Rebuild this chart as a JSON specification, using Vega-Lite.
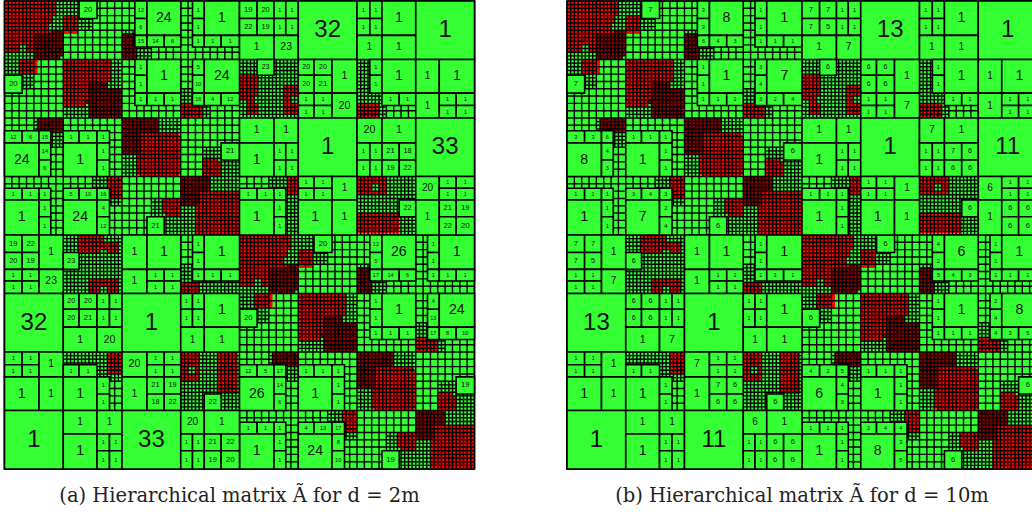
{"$schema":"https://vega.github.io/schema/vega-lite/v6.json","padding":{"left":3.5,"top":0,"right":0,"bottom":0},"spacing":90.5,"config":{"view":{"stroke":null}},
"datasets":{
"full":[{"x":0,"x2":128,"y":0,"y2":128}],
"dense":[
{"k":"red","x":0,"x2":14,"y":0,"y2":13},{"k":"deep","x":9,"x2":16,"y":8,"y2":15},{"k":"red","x":16,"x2":20,"y":4,"y2":9},{"k":"deep","x":32,"x2":36,"y":9,"y2":16},{"k":"red","x":16,"x2":27,"y":16,"y2":29},{"k":"deep","x":22,"x2":32,"y":23,"y2":32},{"k":"red","x":48,"x2":54,"y":28,"y2":32},{"k":"deep","x":32,"x2":42,"y":32,"y2":38},{"k":"red","x":36,"x2":48,"y":37,"y2":47.5},{"k":"red","x":54,"x2":58,"y":43,"y2":48},{"k":"deep","x":48,"x2":56,"y":48,"y2":55},{"k":"red","x":52,"x2":64,"y":53,"y2":64},{"k":"red","x":44,"x2":48,"y":54,"y2":59},
{"k":"red","x":64,"x2":78,"y":64,"y2":77},{"k":"deep","x":73,"x2":80,"y":72,"y2":79},{"k":"red","x":80,"x2":84,"y":68,"y2":73},{"k":"deep","x":96,"x2":100,"y":73,"y2":80},{"k":"red","x":80,"x2":91,"y":80,"y2":93},{"k":"deep","x":86,"x2":96,"y":87,"y2":96},{"k":"red","x":112,"x2":118,"y":92,"y2":96},{"k":"deep","x":96,"x2":106,"y":96,"y2":102},{"k":"red","x":100,"x2":112,"y":101,"y2":111.5},{"k":"red","x":118,"x2":122,"y":107,"y2":112},{"k":"deep","x":112,"x2":120,"y":112,"y2":119},{"k":"red","x":116,"x2":128,"y":117,"y2":128},{"k":"red","x":108,"x2":112,"y":118,"y2":123},
{"k":"red","x":64,"x2":69,"y":20,"y2":27},{"k":"red","x":66,"x2":69,"y":25,"y2":31},{"k":"red","x":76,"x2":80,"y":23,"y2":31},{"k":"red","x":96,"x2":102,"y":28,"y2":32},{"k":"red","x":96,"x2":104,"y":48,"y2":53},{"k":"red","x":96,"x2":107.5,"y":58,"y2":63.5},{"k":"red","x":77,"x2":80,"y":48,"y2":53},
{"k":"clear","x":6,"x2":8,"y":12,"y2":16},{"k":"clear","x":12,"x2":14,"y":4,"y2":6},{"k":"clear","x":22,"x2":24,"y":28,"y2":32},{"k":"clear","x":42,"x2":44,"y":32,"y2":36},{"k":"clear","x":50,"x2":52,"y":56,"y2":58},{"k":"clear","x":70,"x2":72,"y":76,"y2":80},{"k":"clear","x":76,"x2":78,"y":68,"y2":70},{"k":"clear","x":86,"x2":88,"y":92,"y2":96},{"k":"clear","x":106,"x2":108,"y":96,"y2":100},{"k":"clear","x":114,"x2":116,"y":120,"y2":122},{"k":"clear","x":68,"x2":70,"y":26,"y2":28},{"k":"clear","x":100,"x2":102,"y":50,"y2":52},{"k":"clear","x":78,"x2":80,"y":26,"y2":28}],
"mesh":[
{"x":[0,2,4,6,8,10,12,14,16,18,20,22,24,26,28,30,32,34,36,38,40,42,44,46,48,50,52,54,56,58,60,62,64,66,68,70,72,74,76,78,80,82,84,86,88,90,92,94,96,98,100,102,104,106,108,110,112,114,116,118,120,122,124,126,128],"y":0,"y2":128},
{"x":[1,3,5,7],"y":0,"y2":24},
{"x":[9,11,13,15],"y":0,"y2":16},{"x":[9,11,13,15],"y":32,"y2":40},
{"x":[17,19,21,23],"y":0,"y2":8},{"x":[17,19,21,23],"y":16,"y2":32},{"x":[17,19,21,23],"y":64,"y2":80},{"x":[17,19,21,23],"y":96,"y2":104},
{"x":[25,27,29,31],"y":16,"y2":32},{"x":[25,27,29,31],"y":48,"y2":56},{"x":[25,27,29,31],"y":64,"y2":80},{"x":[25,27,29,31],"y":96,"y2":104},
{"x":[33,35,37,39],"y":8,"y2":16},{"x":[33,35,37,39],"y":32,"y2":48},
{"x":[41,43,45,47],"y":32,"y2":48},{"x":[41,43,45,47],"y":54,"y2":64},
{"x":[49,51,53,55],"y":24,"y2":32},{"x":[49,51,53,55],"y":48,"y2":64},{"x":[49,51,53,55],"y":72,"y2":80},{"x":[49,51,53,55],"y":96,"y2":112},{"x":[55],"y":40,"y2":48},
{"x":[57,59,61,63],"y":40,"y2":64},{"x":[57,59,61,63],"y":72,"y2":80},{"x":[57,59,61,63],"y":96,"y2":112},
{"x":[65,67,69,71],"y":16,"y2":32},{"x":[65,67,69,71],"y":64,"y2":88},
{"x":[73,75,77,79],"y":16,"y2":32},{"x":[73,75,77,79],"y":48,"y2":80},{"x":[73,75,77,79],"y":96,"y2":104},
{"x":[81,83,85,87],"y":64,"y2":72},{"x":[81,83,85,87],"y":80,"y2":96},
{"x":[89,91,93,95],"y":80,"y2":96},{"x":[89,91,93,95],"y":112,"y2":120},
{"x":[97,99,101,103],"y":16,"y2":32},{"x":[97,99,101,103],"y":48,"y2":64},{"x":[97,99,101,103],"y":72,"y2":80},{"x":[97,99,101,103],"y":96,"y2":112},
{"x":[105,107,109,111],"y":48,"y2":64},{"x":[105,107,109,111],"y":96,"y2":112},{"x":[105,107,109,111],"y":118,"y2":128},
{"x":[113,115,117,119],"y":88,"y2":96},{"x":[113,115,117,119],"y":112,"y2":128},{"x":[119],"y":104,"y2":112},
{"x":[121,123,125,127],"y":104,"y2":128}],
"blocks":[
{"x":20.3,"x2":25.2,"y":0,"y2":4.8,"cx":22.75,"cy":2.4,"s":4.8,"a":"20","b":"7"},
{"x":35.5,"x2":38.8,"y":0,"y2":4.8,"cx":37.15,"cy":2.4,"s":3.3,"a":"12","b":"3"},
{"x":35.5,"x2":38.8,"y":4.8,"y2":9.4,"cx":37.15,"cy":7.1,"s":3.3,"a":"6","b":"3"},
{"x":38.8,"x2":48,"y":0,"y2":9.4,"cx":43.4,"cy":4.7,"s":9.2,"a":"24","b":"8"},
{"x":35.5,"x2":38.8,"y":9.4,"y2":12.6,"cx":37.15,"cy":11,"s":3.2,"a":"15","b":"6"},
{"x":38.8,"x2":43.5,"y":9.4,"y2":12.6,"cx":41.15,"cy":11,"s":3.2,"a":"14","b":"4"},
{"x":43.5,"x2":48,"y":9.4,"y2":12.6,"cx":45.75,"cy":11,"s":3.2,"a":"6","b":"3"},
{"x":51.2,"x2":54.4,"y":0,"y2":4.8,"cx":52.8,"cy":2.4,"s":3.2,"a":"1","b":"1"},
{"x":51.2,"x2":54.4,"y":4.8,"y2":9.4,"cx":52.8,"cy":7.1,"s":3.2,"a":"1","b":"1"},
{"x":54.4,"x2":64,"y":0,"y2":9.4,"cx":59.2,"cy":4.7,"s":9.4,"a":"1","b":"1"},
{"x":51.2,"x2":54.4,"y":9.4,"y2":12.6,"cx":52.8,"cy":11,"s":3.2,"a":"1","b":"1"},
{"x":54.4,"x2":59,"y":9.4,"y2":12.6,"cx":56.7,"cy":11,"s":3.2,"a":"1","b":"1"},
{"x":59,"x2":64,"y":9.4,"y2":12.6,"cx":61.5,"cy":11,"s":3.2,"a":"1","b":"1"},
{"x":35.5,"x2":38.8,"y":16,"y2":20.3,"cx":37.15,"cy":18.15,"s":3.3,"a":"1","b":"1"},
{"x":35.5,"x2":38.8,"y":20.3,"y2":25.2,"cx":37.15,"cy":22.75,"s":3.3,"a":"1","b":"1"},
{"x":38.8,"x2":48,"y":16,"y2":25.2,"cx":43.4,"cy":20.6,"s":9.2,"a":"1","b":"1"},
{"x":35.5,"x2":38.8,"y":25.2,"y2":28.6,"cx":37.15,"cy":26.9,"s":3.3,"a":"1","b":"1"},
{"x":38.8,"x2":43.5,"y":25.2,"y2":28.6,"cx":41.15,"cy":26.9,"s":3.4,"a":"1","b":"1"},
{"x":43.5,"x2":48,"y":25.2,"y2":28.6,"cx":45.75,"cy":26.9,"s":3.4,"a":"1","b":"1"},
{"x":51.2,"x2":54.4,"y":16,"y2":20.3,"cx":52.8,"cy":18.15,"s":3.2,"a":"5","b":"3"},
{"x":51.2,"x2":54.4,"y":20.3,"y2":25.2,"cx":52.8,"cy":22.75,"s":3.2,"a":"10","b":"4"},
{"x":54.4,"x2":64,"y":16,"y2":25.2,"cx":59.2,"cy":20.6,"s":9.2,"a":"24","b":"7"},
{"x":51.2,"x2":54.4,"y":25.2,"y2":28.6,"cx":52.8,"cy":26.9,"s":3.2,"a":"16","b":"3"},
{"x":54.4,"x2":59,"y":25.2,"y2":28.6,"cx":56.7,"cy":26.9,"s":3.4,"a":"4","b":"2"},
{"x":59,"x2":64,"y":25.2,"y2":28.6,"cx":61.5,"cy":26.9,"s":3.4,"a":"12","b":"4"},
{"x":59,"x2":64,"y":38.8,"y2":43.5,"cx":61.5,"cy":41.15,"s":4.7,"a":"21","b":"6"},
{"x":84.3,"x2":89.2,"y":64,"y2":68.8,"cx":86.75,"cy":66.4,"s":4.8,"a":"20","b":"6"},
{"x":99.5,"x2":102.8,"y":64,"y2":68.8,"cx":101.15,"cy":66.4,"s":3.3,"a":"12","b":"4"},
{"x":99.5,"x2":102.8,"y":68.8,"y2":73.4,"cx":101.15,"cy":71.1,"s":3.3,"a":"5","b":"2"},
{"x":102.8,"x2":112,"y":64,"y2":73.4,"cx":107.4,"cy":68.7,"s":9.2,"a":"26","b":"6"},
{"x":99.5,"x2":102.8,"y":73.4,"y2":76.6,"cx":101.15,"cy":75,"s":3.2,"a":"17","b":"5"},
{"x":102.8,"x2":107.5,"y":73.4,"y2":76.6,"cx":105.15,"cy":75,"s":3.2,"a":"14","b":"4"},
{"x":107.5,"x2":112,"y":73.4,"y2":76.6,"cx":109.75,"cy":75,"s":3.2,"a":"6","b":"3"},
{"x":115.2,"x2":118.4,"y":64,"y2":68.8,"cx":116.8,"cy":66.4,"s":3.2,"a":"1","b":"1"},
{"x":115.2,"x2":118.4,"y":68.8,"y2":73.4,"cx":116.8,"cy":71.1,"s":3.2,"a":"1","b":"1"},
{"x":118.4,"x2":128,"y":64,"y2":73.4,"cx":123.2,"cy":68.7,"s":9.4,"a":"1","b":"1"},
{"x":115.2,"x2":118.4,"y":73.4,"y2":76.6,"cx":116.8,"cy":75,"s":3.2,"a":"1","b":"1"},
{"x":118.4,"x2":123,"y":73.4,"y2":76.6,"cx":120.7,"cy":75,"s":3.2,"a":"1","b":"1"},
{"x":123,"x2":128,"y":73.4,"y2":76.6,"cx":125.5,"cy":75,"s":3.2,"a":"1","b":"1"},
{"x":99.5,"x2":102.8,"y":80,"y2":84.3,"cx":101.15,"cy":82.15,"s":3.3,"a":"1","b":"1"},
{"x":99.5,"x2":102.8,"y":84.3,"y2":89.2,"cx":101.15,"cy":86.75,"s":3.3,"a":"1","b":"1"},
{"x":102.8,"x2":112,"y":80,"y2":89.2,"cx":107.4,"cy":84.6,"s":9.2,"a":"1","b":"1"},
{"x":99.5,"x2":102.8,"y":89.2,"y2":92.6,"cx":101.15,"cy":90.9,"s":3.3,"a":"1","b":"1"},
{"x":102.8,"x2":107.5,"y":89.2,"y2":92.6,"cx":105.15,"cy":90.9,"s":3.4,"a":"1","b":"1"},
{"x":107.5,"x2":112,"y":89.2,"y2":92.6,"cx":109.75,"cy":90.9,"s":3.4,"a":"1","b":"1"},
{"x":115.2,"x2":118.4,"y":80,"y2":84.3,"cx":116.8,"cy":82.15,"s":3.2,"a":"4","b":"2"},
{"x":115.2,"x2":118.4,"y":84.3,"y2":89.2,"cx":116.8,"cy":86.75,"s":3.2,"a":"13","b":"4"},
{"x":118.4,"x2":128,"y":80,"y2":89.2,"cx":123.2,"cy":84.6,"s":9.2,"a":"24","b":"8"},
{"x":115.2,"x2":118.4,"y":89.2,"y2":92.6,"cx":116.8,"cy":90.9,"s":3.2,"a":"17","b":"4"},
{"x":118.4,"x2":123,"y":89.2,"y2":92.6,"cx":120.7,"cy":90.9,"s":3.4,"a":"8","b":"3"},
{"x":123,"x2":128,"y":89.2,"y2":92.6,"cx":125.5,"cy":90.9,"s":3.4,"a":"10","b":"5"},
{"x":123,"x2":128,"y":102.8,"y2":107.5,"cx":125.5,"cy":105.15,"s":4.7,"a":"19","b":"6"},
{"x":64,"x2":68.8,"y":0,"y2":4.8,"cx":66.4,"cy":2.4,"s":4.8,"a":"19","b":"7"},
{"x":68.8,"x2":73.4,"y":0,"y2":4.8,"cx":71.1,"cy":2.4,"s":4.6,"a":"20","b":"7"},
{"x":73.4,"x2":76.6,"y":0,"y2":4.8,"cx":75,"cy":2.4,"s":3.2,"a":"1","b":"1"},
{"x":76.6,"x2":80,"y":0,"y2":4.8,"cx":78.3,"cy":2.4,"s":3.4,"a":"1","b":"1"},
{"x":64,"x2":68.8,"y":4.8,"y2":9.4,"cx":66.4,"cy":7.1,"s":4.6,"a":"22","b":"7"},
{"x":68.8,"x2":73.4,"y":4.8,"y2":9.4,"cx":71.1,"cy":7.1,"s":4.6,"a":"19","b":"5"},
{"x":73.4,"x2":76.6,"y":4.8,"y2":9.4,"cx":75,"cy":7.1,"s":3.2,"a":"1","b":"1"},
{"x":76.6,"x2":80,"y":4.8,"y2":9.4,"cx":78.3,"cy":7.1,"s":3.4,"a":"1","b":"1"},
{"x":64,"x2":73.4,"y":9.4,"y2":16,"cx":68.7,"cy":12.7,"s":6.6,"a":"1","b":"1"},
{"x":73.4,"x2":80,"y":9.4,"y2":16,"cx":76.7,"cy":12.7,"s":6.6,"a":"23","b":"7"},
{"x":80,"x2":96,"y":0,"y2":16,"cx":88,"cy":8,"s":16,"a":"32","b":"13"},
{"x":96,"x2":99.5,"y":0,"y2":4.8,"cx":97.75,"cy":2.4,"s":3.5,"a":"1","b":"1"},
{"x":99.5,"x2":102.8,"y":0,"y2":4.8,"cx":101.15,"cy":2.4,"s":3.3,"a":"1","b":"1"},
{"x":96,"x2":99.5,"y":4.8,"y2":9.4,"cx":97.75,"cy":7.1,"s":3.5,"a":"1","b":"1"},
{"x":99.5,"x2":102.8,"y":4.8,"y2":9.4,"cx":101.15,"cy":7.1,"s":3.3,"a":"1","b":"1"},
{"x":102.8,"x2":112,"y":0,"y2":9.4,"cx":107.4,"cy":4.7,"s":9.2,"a":"1","b":"1"},
{"x":96,"x2":102.8,"y":9.4,"y2":16,"cx":99.4,"cy":12.7,"s":6.6,"a":"1","b":"1"},
{"x":102.8,"x2":112,"y":9.4,"y2":16,"cx":107.4,"cy":12.7,"s":6.6,"a":"1","b":"1"},
{"x":112,"x2":128,"y":0,"y2":16,"cx":120,"cy":8,"s":16,"a":"1","b":"1"},
{"x":68.8,"x2":73.4,"y":16,"y2":20.3,"cx":71.1,"cy":18.15,"s":4.3,"a":"23","b":"6"},
{"x":80,"x2":84.3,"y":16,"y2":20.3,"cx":82.15,"cy":18.15,"s":4.3,"a":"20","b":"6"},
{"x":84.3,"x2":89.2,"y":16,"y2":20.3,"cx":86.75,"cy":18.15,"s":4.3,"a":"20","b":"6"},
{"x":80,"x2":84.3,"y":20.3,"y2":25.2,"cx":82.15,"cy":22.75,"s":4.3,"a":"20","b":"6"},
{"x":84.3,"x2":89.2,"y":20.3,"y2":25.2,"cx":86.75,"cy":22.75,"s":4.9,"a":"21","b":"6"},
{"x":89.2,"x2":96,"y":16,"y2":25.2,"cx":92.6,"cy":20.6,"s":6.8,"a":"1","b":"1"},
{"x":80,"x2":84.3,"y":25.2,"y2":28.6,"cx":82.15,"cy":26.9,"s":3.4,"a":"1","b":"1"},
{"x":84.3,"x2":89.2,"y":25.2,"y2":28.6,"cx":86.75,"cy":26.9,"s":3.4,"a":"1","b":"1"},
{"x":80,"x2":84.3,"y":28.6,"y2":32,"cx":82.15,"cy":30.3,"s":3.4,"a":"1","b":"1"},
{"x":84.3,"x2":89.2,"y":28.6,"y2":32,"cx":86.75,"cy":30.3,"s":3.4,"a":"1","b":"1"},
{"x":89.2,"x2":96,"y":25.2,"y2":32,"cx":92.6,"cy":28.6,"s":6.8,"a":"20","b":"7"},
{"x":99.5,"x2":102.8,"y":16,"y2":20.3,"cx":101.15,"cy":18.15,"s":3.3,"a":"1","b":"1"},
{"x":99.5,"x2":102.8,"y":20.3,"y2":25.2,"cx":101.15,"cy":22.75,"s":3.3,"a":"1","b":"1"},
{"x":102.8,"x2":112,"y":16,"y2":25.2,"cx":107.4,"cy":20.6,"s":9.2,"a":"1","b":"1"},
{"x":102.8,"x2":107.5,"y":25.2,"y2":28.6,"cx":105.15,"cy":26.9,"s":3.4,"a":"1","b":"1"},
{"x":107.5,"x2":112,"y":25.2,"y2":28.6,"cx":109.75,"cy":26.9,"s":3.4,"a":"1","b":"1"},
{"x":112,"x2":118.4,"y":16,"y2":25.2,"cx":115.2,"cy":20.6,"s":6.4,"a":"1","b":"1"},
{"x":118.4,"x2":128,"y":16,"y2":25.2,"cx":123.2,"cy":20.6,"s":9.2,"a":"1","b":"1"},
{"x":112,"x2":118.4,"y":25.2,"y2":32,"cx":115.2,"cy":28.6,"s":6.4,"a":"1","b":"1"},
{"x":118.4,"x2":123,"y":25.2,"y2":28.6,"cx":120.7,"cy":26.9,"s":3.4,"a":"1","b":"1"},
{"x":123,"x2":128,"y":25.2,"y2":28.6,"cx":125.5,"cy":26.9,"s":3.4,"a":"1","b":"1"},
{"x":118.4,"x2":123,"y":28.6,"y2":32,"cx":120.7,"cy":30.3,"s":3.4,"a":"1","b":"1"},
{"x":123,"x2":128,"y":28.6,"y2":32,"cx":125.5,"cy":30.3,"s":3.4,"a":"1","b":"1"},
{"x":64,"x2":73.4,"y":32,"y2":38.8,"cx":68.7,"cy":35.4,"s":6.8,"a":"1","b":"1"},
{"x":73.4,"x2":80,"y":32,"y2":38.8,"cx":76.7,"cy":35.4,"s":6.6,"a":"1","b":"1"},
{"x":64,"x2":73.4,"y":38.8,"y2":48,"cx":68.7,"cy":43.4,"s":9.2,"a":"1","b":"1"},
{"x":73.4,"x2":76.6,"y":38.8,"y2":43.5,"cx":75,"cy":41.15,"s":3.2,"a":"1","b":"1"},
{"x":76.6,"x2":80,"y":38.8,"y2":43.5,"cx":78.3,"cy":41.15,"s":3.4,"a":"1","b":"1"},
{"x":73.4,"x2":76.6,"y":43.5,"y2":48,"cx":75,"cy":45.75,"s":3.2,"a":"1","b":"1"},
{"x":76.6,"x2":80,"y":43.5,"y2":48,"cx":78.3,"cy":45.75,"s":3.4,"a":"1","b":"1"},
{"x":80,"x2":96,"y":32,"y2":48,"cx":88,"cy":40,"s":16,"a":"1","b":"1"},
{"x":96,"x2":102.8,"y":32,"y2":38.8,"cx":99.4,"cy":35.4,"s":6.8,"a":"20","b":"7"},
{"x":102.8,"x2":112,"y":32,"y2":38.8,"cx":107.4,"cy":35.4,"s":6.8,"a":"1","b":"1"},
{"x":96,"x2":99.5,"y":38.8,"y2":43.5,"cx":97.75,"cy":41.15,"s":3.5,"a":"1","b":"1"},
{"x":99.5,"x2":102.8,"y":38.8,"y2":43.5,"cx":101.15,"cy":41.15,"s":3.3,"a":"1","b":"1"},
{"x":96,"x2":99.5,"y":43.5,"y2":48,"cx":97.75,"cy":45.75,"s":3.5,"a":"1","b":"1"},
{"x":99.5,"x2":102.8,"y":43.5,"y2":48,"cx":101.15,"cy":45.75,"s":3.3,"a":"1","b":"1"},
{"x":102.8,"x2":107.5,"y":38.8,"y2":43.5,"cx":105.15,"cy":41.15,"s":4.7,"a":"21","b":"7"},
{"x":107.5,"x2":112,"y":38.8,"y2":43.5,"cx":109.75,"cy":41.15,"s":4.5,"a":"18","b":"6"},
{"x":102.8,"x2":107.5,"y":43.5,"y2":48,"cx":105.15,"cy":45.75,"s":4.5,"a":"19","b":"6"},
{"x":107.5,"x2":112,"y":43.5,"y2":48,"cx":109.75,"cy":45.75,"s":4.5,"a":"22","b":"6"},
{"x":112,"x2":128,"y":32,"y2":48,"cx":120,"cy":40,"s":16,"a":"33","b":"11"},
{"x":64,"x2":68.8,"y":51.2,"y2":54.4,"cx":66.4,"cy":52.8,"s":3.2,"a":"1","b":"1"},
{"x":68.8,"x2":73.4,"y":51.2,"y2":54.4,"cx":71.1,"cy":52.8,"s":3.2,"a":"1","b":"1"},
{"x":73.4,"x2":76.6,"y":51.2,"y2":54.4,"cx":75,"cy":52.8,"s":3.2,"a":"1","b":"1"},
{"x":64,"x2":73.4,"y":54.4,"y2":64,"cx":68.7,"cy":59.2,"s":9.4,"a":"1","b":"1"},
{"x":73.4,"x2":76.6,"y":54.4,"y2":59,"cx":75,"cy":56.7,"s":3.2,"a":"1","b":"1"},
{"x":73.4,"x2":76.6,"y":59,"y2":64,"cx":75,"cy":61.5,"s":3.2,"a":"1","b":"1"},
{"x":80,"x2":84.3,"y":48,"y2":51.2,"cx":82.15,"cy":49.6,"s":3.2,"a":"1","b":"1"},
{"x":84.3,"x2":89.2,"y":48,"y2":51.2,"cx":86.75,"cy":49.6,"s":3.2,"a":"1","b":"1"},
{"x":80,"x2":84.3,"y":51.2,"y2":54.4,"cx":82.15,"cy":52.8,"s":3.2,"a":"1","b":"1"},
{"x":84.3,"x2":89.2,"y":51.2,"y2":54.4,"cx":86.75,"cy":52.8,"s":3.2,"a":"1","b":"1"},
{"x":89.2,"x2":96,"y":48,"y2":54.4,"cx":92.6,"cy":51.2,"s":6.4,"a":"1","b":"1"},
{"x":80,"x2":89.2,"y":54.4,"y2":64,"cx":84.6,"cy":59.2,"s":9.2,"a":"1","b":"1"},
{"x":89.2,"x2":96,"y":54.4,"y2":64,"cx":92.6,"cy":59.2,"s":6.8,"a":"1","b":"1"},
{"x":107.5,"x2":112,"y":54.4,"y2":59,"cx":109.75,"cy":56.7,"s":4.5,"a":"22","b":"6"},
{"x":112,"x2":118.4,"y":48,"y2":54.4,"cx":115.2,"cy":51.2,"s":6.4,"a":"20","b":"6"},
{"x":118.4,"x2":123,"y":48,"y2":51.2,"cx":120.7,"cy":49.6,"s":3.2,"a":"1","b":"1"},
{"x":123,"x2":128,"y":48,"y2":51.2,"cx":125.5,"cy":49.6,"s":3.2,"a":"1","b":"1"},
{"x":118.4,"x2":123,"y":51.2,"y2":54.4,"cx":120.7,"cy":52.8,"s":3.2,"a":"1","b":"1"},
{"x":123,"x2":128,"y":51.2,"y2":54.4,"cx":125.5,"cy":52.8,"s":3.2,"a":"1","b":"1"},
{"x":112,"x2":118.4,"y":54.4,"y2":64,"cx":115.2,"cy":59.2,"s":6.4,"a":"1","b":"1"},
{"x":118.4,"x2":123,"y":54.4,"y2":59,"cx":120.7,"cy":56.7,"s":4.5,"a":"21","b":"6"},
{"x":123,"x2":128,"y":54.4,"y2":59,"cx":125.5,"cy":56.7,"s":4.6,"a":"19","b":"6"},
{"x":118.4,"x2":123,"y":59,"y2":64,"cx":120.7,"cy":61.5,"s":4.6,"a":"22","b":"6"},
{"x":123,"x2":128,"y":59,"y2":64,"cx":125.5,"cy":61.5,"s":5,"a":"20","b":"6"}]},
"hconcat":[
{"width":470,"height":468,"title":{"text":"(a) Hierarchical matrix Ã for d = 2m","orient":"bottom","font":"DejaVu Serif","fontSize":19.5,"fontWeight":"normal","color":"#222222","offset":17},
"layer":[
{"data":{"name":"full"},"mark":{"type":"rect","fill":"#33ff33","stroke":"#000000","strokeWidth":1.6},"encoding":{"x":{"field":"x","type":"quantitative","scale":{"domain":[0,128],"nice":false,"zero":false},"axis":null},"x2":{"field":"x2"},"y":{"field":"y","type":"quantitative","scale":{"domain":[0,128],"nice":false,"zero":false,"reverse":true},"axis":null},"y2":{"field":"y2"}}},
{"data":{"name":"dense"},"mark":{"type":"rect"},"encoding":{"x":{"field":"x","type":"quantitative"},"x2":{"field":"x2"},"y":{"field":"y","type":"quantitative"},"y2":{"field":"y2"},"fill":{"field":"k","type":"nominal","scale":{"domain":["red","deep","clear"],"range":["#ff0000","#900000","#33ff33"]},"legend":null}}},
{"data":{"name":"dense"},"mark":{"type":"rect"},"encoding":{"x":{"field":"y","type":"quantitative"},"x2":{"field":"y2"},"y":{"field":"x","type":"quantitative"},"y2":{"field":"x2"},"fill":{"field":"k","type":"nominal","legend":null}}},
{"data":{"name":"mesh"},"transform":[{"flatten":["x"]}],"mark":{"type":"rule","stroke":"#000000","strokeWidth":1.4},"encoding":{"x":{"field":"x","type":"quantitative"},"y":{"field":"y","type":"quantitative"},"y2":{"field":"y2"}}},
{"data":{"name":"mesh"},"transform":[{"flatten":["x"]}],"mark":{"type":"rule","stroke":"#000000","strokeWidth":1.4},"encoding":{"y":{"field":"x","type":"quantitative"},"x":{"field":"y","type":"quantitative"},"x2":{"field":"y2"}}},
{"data":{"name":"blocks"},"mark":{"type":"rect","fill":"#33ff33","stroke":"#000000","strokeWidth":1.6},"encoding":{"x":{"field":"x","type":"quantitative"},"x2":{"field":"x2"},"y":{"field":"y","type":"quantitative"},"y2":{"field":"y2"}}},
{"data":{"name":"blocks"},"mark":{"type":"rect","fill":"#33ff33","stroke":"#000000","strokeWidth":1.6},"encoding":{"x":{"field":"y","type":"quantitative"},"x2":{"field":"y2"},"y":{"field":"x","type":"quantitative"},"y2":{"field":"x2"}}},
{"data":{"name":"blocks"},"mark":{"type":"text","font":"Liberation Sans","color":"#111111"},"encoding":{"x":{"field":"cx","type":"quantitative"},"y":{"field":"cy","type":"quantitative"},"text":{"field":"a"},"size":{"field":"s","type":"quantitative","scale":{"domain":[3.2,16],"range":[5.5,24],"zero":false},"legend":null}}},
{"data":{"name":"blocks"},"mark":{"type":"text","font":"Liberation Sans","color":"#111111"},"encoding":{"x":{"field":"cy","type":"quantitative"},"y":{"field":"cx","type":"quantitative"},"text":{"field":"a"},"size":{"field":"s","type":"quantitative","legend":null}}}
]},
{"width":470,"height":468,"title":{"text":"(b) Hierarchical matrix Ã for d = 10m","orient":"bottom","font":"DejaVu Serif","fontSize":19.5,"fontWeight":"normal","color":"#222222","offset":17},
"layer":[
{"data":{"name":"full"},"mark":{"type":"rect","fill":"#33ff33","stroke":"#000000","strokeWidth":1.6},"encoding":{"x":{"field":"x","type":"quantitative","scale":{"domain":[0,128],"nice":false,"zero":false},"axis":null},"x2":{"field":"x2"},"y":{"field":"y","type":"quantitative","scale":{"domain":[0,128],"nice":false,"zero":false,"reverse":true},"axis":null},"y2":{"field":"y2"}}},
{"data":{"name":"dense"},"mark":{"type":"rect"},"encoding":{"x":{"field":"x","type":"quantitative"},"x2":{"field":"x2"},"y":{"field":"y","type":"quantitative"},"y2":{"field":"y2"},"fill":{"field":"k","type":"nominal","scale":{"domain":["red","deep","clear"],"range":["#ff0000","#900000","#33ff33"]},"legend":null}}},
{"data":{"name":"dense"},"mark":{"type":"rect"},"encoding":{"x":{"field":"y","type":"quantitative"},"x2":{"field":"y2"},"y":{"field":"x","type":"quantitative"},"y2":{"field":"x2"},"fill":{"field":"k","type":"nominal","legend":null}}},
{"data":{"name":"mesh"},"transform":[{"flatten":["x"]}],"mark":{"type":"rule","stroke":"#000000","strokeWidth":1.4},"encoding":{"x":{"field":"x","type":"quantitative"},"y":{"field":"y","type":"quantitative"},"y2":{"field":"y2"}}},
{"data":{"name":"mesh"},"transform":[{"flatten":["x"]}],"mark":{"type":"rule","stroke":"#000000","strokeWidth":1.4},"encoding":{"y":{"field":"x","type":"quantitative"},"x":{"field":"y","type":"quantitative"},"x2":{"field":"y2"}}},
{"data":{"name":"blocks"},"mark":{"type":"rect","fill":"#33ff33","stroke":"#000000","strokeWidth":1.6},"encoding":{"x":{"field":"x","type":"quantitative"},"x2":{"field":"x2"},"y":{"field":"y","type":"quantitative"},"y2":{"field":"y2"}}},
{"data":{"name":"blocks"},"mark":{"type":"rect","fill":"#33ff33","stroke":"#000000","strokeWidth":1.6},"encoding":{"x":{"field":"y","type":"quantitative"},"x2":{"field":"y2"},"y":{"field":"x","type":"quantitative"},"y2":{"field":"x2"}}},
{"data":{"name":"blocks"},"mark":{"type":"text","font":"Liberation Sans","color":"#111111"},"encoding":{"x":{"field":"cx","type":"quantitative"},"y":{"field":"cy","type":"quantitative"},"text":{"field":"b"},"size":{"field":"s","type":"quantitative","scale":{"domain":[3.2,16],"range":[5.5,24],"zero":false},"legend":null}}},
{"data":{"name":"blocks"},"mark":{"type":"text","font":"Liberation Sans","color":"#111111"},"encoding":{"x":{"field":"cy","type":"quantitative"},"y":{"field":"cx","type":"quantitative"},"text":{"field":"b"},"size":{"field":"s","type":"quantitative","legend":null}}}
]}
]}
